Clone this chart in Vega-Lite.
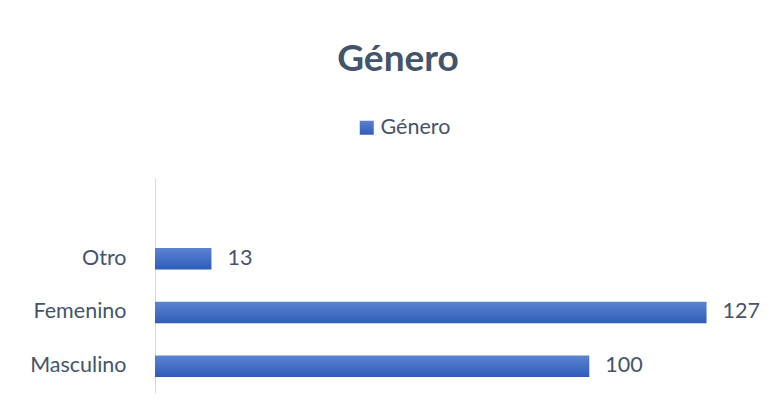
{
  "$schema": "https://vega.github.io/schema/vega-lite/v6.json",
  "width": 608,
  "height": 215,
  "autosize": {"type": "none"},
  "padding": {"left": 155, "top": 178, "right": 17, "bottom": 23},
  "background": "white",
  "title": {
    "text": "Género",
    "font": "Lato",
    "fontSize": 37,
    "fontWeight": "bold",
    "color": "#44546A",
    "anchor": "middle",
    "frame": "group",
    "dx": -61,
    "offset": 9,
    "baseline": "alphabetic"
  },
  "data": {
    "values": [
      {"genero": "Otro", "n": 13},
      {"genero": "Femenino", "n": 127},
      {"genero": "Masculino", "n": 100}
    ]
  },
  "encoding": {
    "y": {
      "field": "genero",
      "type": "nominal",
      "scale": {"domain": [" ", "Otro", "Femenino", "Masculino"], "paddingInner": 0.6, "paddingOuter": 0.3},
      "axis": {
        "title": null,
        "ticks": false,
        "labelPadding": 29,
        "labelFont": "Lato",
        "labelFontSize": 21.5,
        "labelColor": "#44546A",
        "domainColor": "#D9D9D9",
        "domainWidth": 1,
        "grid": false
      }
    },
    "x": {
      "field": "n",
      "type": "quantitative",
      "scale": {"domain": [0, 140], "nice": false},
      "axis": null
    }
  },
  "layer": [
    {
      "mark": {
        "type": "bar",
        "strokeWidth": 0,
        "fill": {
          "gradient": "linear",
          "x1": 0, "y1": 0, "x2": 0, "y2": 1,
          "stops": [
            {"offset": 0, "color": "#5B83D2"},
            {"offset": 1, "color": "#2F5DB9"}
          ]
        }
      },
      "encoding": {
        "stroke": {
          "datum": "Género",
          "type": "nominal",
          "scale": {"range": ["#3B67C3"]},
          "legend": {
            "title": null,
            "orient": "none",
            "legendX": 201,
            "legendY": -61,
            "symbolType": "square",
            "symbolSize": 196,
            "symbolFillColor": "#3B67C3",
            "symbolStrokeWidth": 0,
            "labelFont": "Lato",
            "labelFontSize": 21.5,
            "labelColor": "#44546A",
            "labelOffset": 3
          }
        }
      }
    },
    {
      "mark": {
        "type": "text",
        "align": "left",
        "baseline": "middle",
        "dx": 16,
        "font": "Lato",
        "fontSize": 21.5,
        "color": "#44546A"
      },
      "encoding": {
        "text": {"field": "n", "type": "quantitative"}
      }
    }
  ],
  "config": {
    "view": {"stroke": null}
  }
}
